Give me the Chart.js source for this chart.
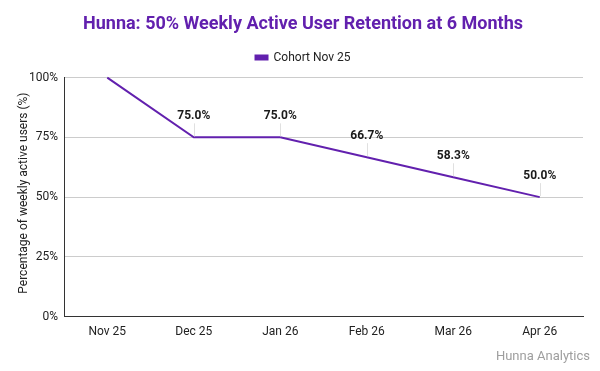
<!DOCTYPE html>
<html>
<head>
<meta charset="utf-8">
<script src="https://cdn.jsdelivr.net/npm/chart.js@4/dist/chart.umd.min.js"></script>
<style>
html,body{margin:0;padding:0;background:#fff;}
#wrap{width:600px;height:371px;position:relative;}
</style>
</head>
<body>
<div id="wrap"><canvas id="c" width="600" height="371"></canvas></div>
<script>
const categories = ['Nov 25','Dec 25','Jan 26','Feb 26','Mar 26','Apr 26'];
const retention = [100, 75.0, 75.0, 66.7, 58.3, 50.0];
const showLabel = [false, true, true, true, true, true];
const yTicks = [0, 25, 50, 75, 100];
const seriesName = 'Cohort Nov 25';
const titleText = 'Hunna: 50% Weekly Active User Retention at 6 Months';
const yTitle = 'Percentage of weekly active users (%)';
const watermark = 'Hunna Analytics';

const PURPLE = '#6220ae';
const FONT = 'Roboto, "Liberation Sans", Arial, sans-serif';

const annotPlugin = {
  id: 'annot',
  beforeInit(chart) {
    const lg = chart.legend;
    if (lg) {
      const orig = lg.fit;
      lg.fit = function() { orig.call(this); this.height += 4; };
    }
  },
  afterDatasetsDraw(chart) {
    const ctx = chart.ctx;
    const meta = chart.getDatasetMeta(0);
    ctx.save();
    meta.data.forEach((pt, i) => {
      if (!showLabel[i]) return;
      const x = pt.x, y = pt.y;
      ctx.strokeStyle = '#e0e0e0';
      ctx.lineWidth = 1;
      ctx.beginPath();
      ctx.moveTo(Math.round(x) + 0.5, y - 1);
      ctx.lineTo(Math.round(x) + 0.5, y - 14);
      ctx.stroke();
      ctx.fillStyle = '#1a1a1a';
      ctx.font = 'bold 12px ' + FONT;
      ctx.textAlign = 'center';
      ctx.textBaseline = 'middle';
      ctx.fillText(retention[i].toFixed(1) + '%', x, y - 21);
    });
    ctx.restore();
  },
  afterDraw(chart) {
    const ctx = chart.ctx;
    const area = chart.chartArea;
    ctx.save();
    ctx.fillStyle = '#9e9e9e';
    ctx.font = '13px ' + FONT;
    ctx.textAlign = 'right';
    ctx.textBaseline = 'middle';
    ctx.fillText(watermark, 590, 357);
    ctx.translate(24, (area.top + area.bottom) / 2 - 4);
    ctx.rotate(-Math.PI / 2);
    ctx.fillStyle = '#222';
    ctx.font = '12px ' + FONT;
    ctx.textAlign = 'center';
    ctx.fillText(yTitle, 0, 0);
    ctx.restore();
  }
};

new Chart(document.getElementById('c'), {
  type: 'line',
  data: {
    labels: categories,
    datasets: [{
      label: seriesName,
      data: retention,
      borderColor: PURPLE,
      backgroundColor: PURPLE,
      borderWidth: 2,
      pointRadius: 0,
      pointHoverRadius: 0,
      tension: 0,
      clip: false
    }]
  },
  options: {
    responsive: false,
    animation: false,
    devicePixelRatio: 1,
    layout: { padding: { left: 23, right: 17, top: 0, bottom: 24 } },
    plugins: {
      title: {
        display: true,
        text: titleText,
        color: PURPLE,
        font: { family: FONT, size: 18, weight: 'bold' },
        padding: { top: 14, bottom: 6 }
      },
      legend: {
        display: true,
        labels: {
          color: '#222',
          font: { family: FONT, size: 12 },
          boxWidth: 12,
          boxHeight: 4,
          padding: 10
        }
      },
      tooltip: { enabled: false }
    },
    scales: {
      x: {
        offset: true,
        grid: { display: false, drawTicks: false },
        border: { display: true, color: '#333', width: 1 },
        ticks: { color: '#222', font: { family: FONT, size: 12 }, padding: 8, maxRotation: 0 }
      },
      y: {
        min: 0,
        max: 100,
        afterBuildTicks(scale) { scale.ticks = yTicks.map(v => ({ value: v })); },
        grid: { color: '#cccccc', drawTicks: false },
        border: { display: true, color: '#333', width: 1 },
        ticks: { color: '#222', font: { family: FONT, size: 12 }, padding: 6, callback: v => v + '%' },
        title: { display: false }
      }
    }
  },
  plugins: [annotPlugin]
});
</script>
</body>
</html>
